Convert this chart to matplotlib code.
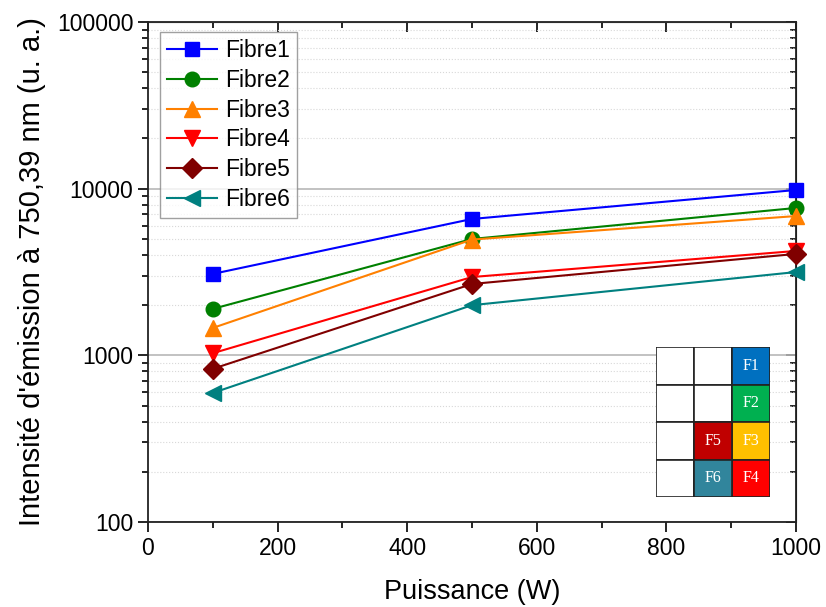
import matplotlib
matplotlib.use('Agg')
import matplotlib.pyplot as plt
from matplotlib.patches import Rectangle
from matplotlib.ticker import LogLocator, NullFormatter, FixedLocator

plt.rcParams['font.family'] = ['Liberation Sans', 'DejaVu Sans']

# données
puissance = [100, 500, 1000]
fibre1 = [3080, 6580, 9820]
fibre2 = [1900, 4990, 7660]
fibre3 = [1460, 4950, 6850]
fibre4 = [1030, 2950, 4230]
fibre5 = [830, 2680, 4060]
fibre6 = [595, 2000, 3160]

series = [fibre1, fibre2, fibre3, fibre4, fibre5, fibre6]
noms = ['Fibre1', 'Fibre2', 'Fibre3', 'Fibre4', 'Fibre5', 'Fibre6']
couleurs = ['#0000FF', '#008000', '#FF8000', '#FF0000', '#800000', '#008080']
marqueurs = ['s', 'o', '^', 'v', 'D', '<']

# schéma de position des fibres (ligne, colonne) -> étiquette, couleur
cases = [(0, 2, 'F1', '#0070C0'), (1, 2, 'F2', '#00B050'), (2, 2, 'F3', '#FFC000'),
         (3, 2, 'F4', '#FF0000'), (2, 1, 'F5', '#C00000'), (3, 1, 'F6', '#31859C')]

fig = plt.figure(figsize=(8.26, 6.07), dpi=100)
ax = fig.add_axes([148/826, 1-522/607, 648/826, 500/607])

for y, nom, c, m in zip(series, noms, couleurs, marqueurs):
    ms = 11.5 if m in ['^', 'v', '<'] else 10.5
    ax.plot(puissance, y, color=c, marker=m, markersize=ms, linewidth=1.5, label=nom, clip_on=False, zorder=3)

ax.set_yscale('log')
ax.set_xlim(0, 1000)
ax.set_ylim(100, 100000)
ax.set_xticks([0, 200, 400, 600, 800, 1000])
ax.xaxis.set_minor_locator(FixedLocator([100, 300, 500, 700, 900]))
ax.yaxis.set_minor_locator(LogLocator(base=10, subs=range(2, 10), numticks=10))
ax.yaxis.set_minor_formatter(NullFormatter())
ax.set_yticks([100, 1000, 10000, 100000])
ax.set_yticklabels(['100', '1000', '10000', '100000'])

ax.grid(True, which='major', axis='y', color='#b8b8b8', linewidth=1.2, linestyle='-')
ax.grid(True, which='minor', axis='y', color='#d8d8d8', linewidth=0.8, linestyle=':')
ax.set_axisbelow(True)

ax.tick_params(axis='both', which='both', direction='out', labelsize=16.5, width=1.2)
ax.tick_params(which='major', length=7)
ax.tick_params(which='minor', length=4)
for s in ax.spines.values():
    s.set_linewidth(1.3)
    s.set_color('#222222')

# graduations intérieures en haut et à droite
ax_t = ax.secondary_xaxis('top')
ax_t.set_xticks([0, 200, 400, 600, 800, 1000])
ax_t.xaxis.set_minor_locator(FixedLocator([100, 300, 500, 700, 900]))
ax_t.tick_params(which='both', direction='in', labeltop=False, width=1.2)
ax_t.tick_params(which='major', length=7)
ax_t.tick_params(which='minor', length=4)
ax_r = ax.secondary_yaxis('right')
ax_r.set_yscale('log')
ax_r.yaxis.set_major_locator(LogLocator(base=10, numticks=10))
ax_r.yaxis.set_minor_locator(LogLocator(base=10, subs=range(2, 10), numticks=10))
ax_r.tick_params(which='both', direction='in', labelright=False, width=1.2)
ax_r.tick_params(which='major', length=7)
ax_r.tick_params(which='minor', length=4)
ax_r.yaxis.set_minor_formatter(NullFormatter())

ax.set_xlabel('Puissance (W)', fontsize=19.5, labelpad=14)
ax.set_ylabel("Intensité d'émission à 750,39 nm (u. a.)", fontsize=21, labelpad=8)

leg = ax.legend(loc='upper left', bbox_to_anchor=(0.018, 0.98), fontsize=16.5, frameon=True,
                fancybox=False, edgecolor='#888888', handlelength=2.2, borderpad=0.3,
                labelspacing=0.3, handletextpad=0.35, borderaxespad=0)
leg.get_frame().set_linewidth(1.0)

# schéma des fibres
ins = fig.add_axes([656/826, 1-497/607, 114/826, 150/607])
ins.set_xlim(0, 3)
ins.set_ylim(4, 0)
ins.axis('off')
for r in range(4):
    for c in range(3):
        ins.add_patch(Rectangle((c, r), 1, 1, facecolor='white', edgecolor='#222222', linewidth=1.2))
for r, c, lab, col in cases:
    ins.add_patch(Rectangle((c, r), 1, 1, facecolor=col, edgecolor='#222222', linewidth=1.2))
    ins.text(c + 0.5, r + 0.5, lab, color='white', ha='center', va='center', fontsize=11.5,
             family=['Liberation Serif', 'DejaVu Serif'])

fig.savefig('out.png', dpi=100)
